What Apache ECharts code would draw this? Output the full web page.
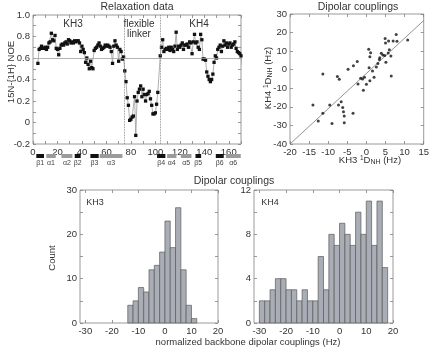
<!DOCTYPE html>
<html><head><meta charset="utf-8">
<script src="https://cdn.jsdelivr.net/npm/echarts@6/dist/echarts.min.js"></script>
<style>html,body{margin:0;padding:0;background:#fff}#c{width:432px;height:349px}</style>
</head><body><div id="c"></div>
<script>
// ---------- data ----------
const noeResidues = [4,5,6,7,8,9,10,11,12,13,14,15,16,17,18,19,20,21,22,23,24,25,26,27,28,29,30,31,32,33,34,35,36,37,38,39,40,41,42,43,44,45,46,47,48,49,50,51,52,53,54,55,56,57,58,59,60,61,62,63,64,65,66,67,68,69,70,71,72,73,74,75,76,77,78,79,80,81,82,83,84,85,86,87,88,89,90,91,92,93,94,95,96,97,98,99,100,101,102,104,105,106,107,108,109,110,111,112,113,114,115,116,117,118,119,120,121,122,123,124,125,126,127,128,129,130,131,132,133,134,135,136,137,138,139,140,141,142,143,144,145,146,147,148,149,150,151,152,153,154,155,156,157,158,159,160,161,162,163,164,165,166,167,168,169,170,171];
const noeValues = [0.55,0.68,0.69,0.71,0.69,0.69,0.70,0.68,0.70,0.74,
  0.75,0.83,0.77,0.76,0.81,0.69,0.68,0.63,0.69,0.72,
  0.73,0.72,0.74,0.75,0.73,0.77,0.76,0.74,0.75,0.74,
  0.76,0.75,0.76,0.76,0.74,0.66,0.71,0.68,0.65,0.56,
  0.60,0.54,0.50,0.57,0.51,0.50,0.67,0.69,0.70,0.72,
  0.74,0.71,0.68,0.69,0.70,0.72,0.71,0.72,0.71,0.70,
  0.66,0.55,0.71,0.76,0.72,0.70,0.57,0.68,0.66,0.59,
  0.61,0.48,0.38,0.23,0.16,0.02,0.03,0.05,0.06,0.24,
  -0.12,0.20,0.28,0.31,0.34,0.24,0.31,0.26,0.20,0.26,
  0.27,0.29,0.22,0.16,0.08,0.08,0.09,0.17,0.28,
  0.62,0.70,0.77,0.66,0.68,0.69,0.68,0.70,0.67,0.70,
  0.68,0.66,0.71,0.84,0.68,0.71,0.70,0.72,0.74,0.68,
  0.72,0.72,0.73,0.70,0.75,0.74,0.64,0.75,0.82,0.74,
  0.75,0.70,0.68,0.82,0.77,0.59,0.59,0.58,0.47,0.43,
  0.40,0.38,0.40,0.45,0.56,0.62,0.60,0.68,0.70,0.72,
  0.66,0.71,0.76,0.72,0.74,0.70,0.73,0.74,0.70,0.72,
  0.73,0.75,0.69,0.66,0.65,0.64,0.62,0.53];
const noeThreshold = 0.6;
const linkerBounds = [74.5, 104];
const noeXLabels = [0,20,40,60,80,100,120,140,160];
const noeYLabels = [-0.2,0,0.2,0.4,0.6,0.8,1.0];

const ssNames = ['β1','α1','α2','β2','β3','α3','β4','α4','α5','β5','β6','α6'];
const ssStart = [2.7,10.9,23.2,34.1,46.9,54.5,101.4,109.6,120.8,132.8,149.4,157.6];
const ssEnd   = [9.0,18.6,32.2,39.0,53.7,73.1,108.2,117.2,129.5,137.4,155.9,169.8];

const kh3Rdc = [-14.0,-12.6,-11.4,-11.4,-9.6,-9.0,-7.6,-7.1,-7.3,-6.6,-6.2,-6.0,-5.8,-5.8,-4.8,-3.4,-2.4,-3.5,-2.2,-1.5,-1.0,-0.5,-0.8,0.0,0.6,1.1,0.9,0.7,0.9,1.6,2.0,3.0,3.5,3.9,4.3,4.8,4.9,5.0,5.1,5.8,6.0,5.7,6.4,6.5,7.0,7.8,8.0,10.8,2.6,3.4];
const kh4Rdc = [-19.0,-27.6,-23.5,-2.3,-19.0,-28.9,-3.7,-5.2,-19.0,-17.2,-20.4,-22.6,-24.9,-28.5,0.2,2.2,4.4,-23.5,-7.7,-4.6,-5.0,-4.1,-11.0,-7.8,11.0,9.2,7.0,1.0,-6.0,-0.7,-4.0,3.4,6.4,8.8,7.9,7.7,16.8,14.4,4.0,15.5,10.8,9.0,7.4,-3.4,15.5,18.9,15.3,16.0,1.5,5.5];
const fitX = [-20, 15];
const fitY = [-40, 26.5];

const kh3BinLeft = [-14,-12,-10,-8,-6,-4,-2,0,2,4,6,8,10];
const kh3Counts  = [4,5,8,7,12,13,16,23,17,26,12,4,1];
const kh4BinLeft = [-30,-28,-26,-24,-22,-20,-18,-16,-14,-12,-10,-8,-6,-4,-2,0,2,4,6,8,10,12,14,16];
const kh4Counts  = [2,2,3,4,4,3,3,2,3,2,2,6,3,8,7,9,8,7,10,8,11,7,11,5];
const binWidth = 2;

// ---------- styles ----------
const FONT = '"Liberation Sans", Arial, Helvetica, sans-serif';
const TXT = '#333';
const AX = '#808080';

function ax(grid, min, max, labels, ticks, pos, showLabel, fmt) {
  return {
    type:'value', gridIndex:grid, min:min, max:max, position:pos,
    axisLine:{show:false, onZero:false}, splitLine:{show:false},
    axisTick:{show:true, inside:true, length:3, lineStyle:{color:AX, width:0.8}, customValues:ticks},
    axisLabel:{show:showLabel!==false, customValues:labels, fontSize:9.5, color:TXT, fontFamily:FONT, margin:3,
      formatter: fmt || (v=>String(v))}
  };
}
function range(a, b, s) { const r=[]; for (let v=a; v<=b+1e-9; v+=s) r.push(Math.round(v*1000)/1000); return r; }

const gridStyle = {show:true, borderColor:AX, borderWidth:0.8, backgroundColor:'transparent'};

function histSeries(xi, yi, lefts, counts) {
  return {
    type:'custom', xAxisIndex:xi, yAxisIndex:yi,
    data: lefts.map((l,i)=>[l, l+binWidth, counts[i]]),
    renderItem:(params, api)=>{
      const p0 = api.coord([api.value(0), api.value(2)]);
      const p1 = api.coord([api.value(1), 0]);
      return {type:'rect', shape:{x:p0[0], y:p0[1], width:p1[0]-p0[0], height:p1[1]-p0[1]},
        style:{fill:'#a9adb5', stroke:'#5a5a5a', lineWidth:0.7}};
    }
  };
}

const richLbl = {
  a:{fontSize:9.5, fontFamily:FONT, fill:TXT},
  s:{fontSize:6.5, fontFamily:FONT, fill:TXT, padding:[0,0,4,0]},
  b:{fontSize:7, fontFamily:FONT, fill:TXT, padding:[4,0,0,0]}
};

const chart = echarts.init(document.getElementById('c'), null, {renderer:'canvas'});
const option = {
  animation:false,
  backgroundColor:'#fff',
  textStyle:{fontFamily:FONT},
  grid:[
    Object.assign({left:33, top:15, width:208, height:129}, gridStyle),
    Object.assign({left:290, top:14, width:140, height:130}, gridStyle),
    Object.assign({left:80, top:190, width:138, height:133}, gridStyle),
    Object.assign({left:254, top:190, width:139, height:133}, gridStyle),
    {left:33, top:154, width:208, height:4, show:false}
  ],
  xAxis:[
    ax(0, 0, 170, noeXLabels, range(0,170,10), 'bottom'),
    ax(0, 0, 170, [], range(0,170,10), 'top', false),
    ax(1, -20, 15, range(-20,15,5), range(-20,15,5), 'bottom'),
    ax(1, -20, 15, [], range(-20,15,5), 'top', false),
    ax(2, -32, 20, range(-30,20,10), range(-30,20,10), 'bottom'),
    ax(2, -32, 20, [], range(-30,20,10), 'top', false),
    ax(3, -32, 20, range(-30,20,10), range(-30,20,10), 'bottom'),
    ax(3, -32, 20, [], range(-30,20,10), 'top', false),
    {type:'value', gridIndex:4, min:0, max:170, show:false}
  ],
  yAxis:[
    ax(0, -0.2, 1.0, noeYLabels, range(-0.2,1.0,0.1), 'left', true, v=> v===0?'0':v.toFixed(1)),
    ax(0, -0.2, 1.0, [], range(-0.2,1.0,0.1), 'right', false),
    ax(1, -40, 30, range(-40,30,10), range(-40,30,10), 'left'),
    ax(1, -40, 30, [], range(-40,30,10), 'right', false),
    ax(2, 0, 30, [0,10,20,30], range(0,30,5), 'left'),
    ax(2, 0, 30, [], range(0,30,5), 'right', false),
    ax(3, 0, 12, [0,4,8,12], range(0,12,2), 'left'),
    ax(3, 0, 12, [], range(0,12,2), 'right', false),
    {type:'value', gridIndex:4, min:0, max:1, show:false}
  ],
  series:[
    {
      type:'line', xAxisIndex:0, yAxisIndex:0,
      data: noeResidues.map((r,i)=>[r, noeValues[i]]),
      symbol:'rect', symbolSize:3.3, showSymbol:true,
      itemStyle:{color:'#111'}, lineStyle:{color:'#9a9a9a', width:0.8},
      markLine:{silent:true, symbol:'none', label:{show:false},
        data:[
          {yAxis:noeThreshold, lineStyle:{color:'#a0a0a0', width:0.8, type:'solid'}},
          {xAxis:linkerBounds[0], lineStyle:{color:'#777', width:0.8, type:'dotted'}},
          {xAxis:linkerBounds[1], lineStyle:{color:'#777', width:0.8, type:'dotted'}}
        ]},
      z:3
    },
    {
      type:'custom', xAxisIndex:8, yAxisIndex:8,
      data: ssNames.map((n,i)=>[ssStart[i], ssEnd[i], i]),
      renderItem:(params, api)=>{
        const i = api.value(2);
        const a = api.coord([api.value(0), 1]);
        const b = api.coord([api.value(1), 0]);
        const beta = ssNames[i].charAt(0)==='β';
        return {type:'group', children:[
          {type:'rect', shape:{x:a[0], y:a[1], width:b[0]-a[0], height:b[1]-a[1]}, style:{fill: beta?'#111':'#9b9b9b'}},
          {type:'text', style:{text:ssNames[i], x:(a[0]+b[0])/2, y:b[1]+1.5, align:'center', verticalAlign:'top',
            fontSize:7, fontFamily:FONT, fill:'#444'}}
        ]};
      }
    },
    {
      type:'line', xAxisIndex:2, yAxisIndex:2,
      data: fitX.map((x,i)=>[x, fitY[i]]), symbol:'none',
      lineStyle:{color:'#777', width:0.8}, z:2
    },
    {
      type:'scatter', xAxisIndex:2, yAxisIndex:2,
      data: kh3Rdc.map((x,i)=>[x, kh4Rdc[i]]),
      symbolSize:3, itemStyle:{color:'#111'}, z:3
    },
    histSeries(4, 4, kh3BinLeft, kh3Counts),
    histSeries(6, 6, kh4BinLeft, kh4Counts)
  ],
  graphic:[
    {type:'text', x:137, y:2, style:{text:'Relaxation data', fontSize:10.5, fontFamily:FONT, fill:TXT, align:'center', verticalAlign:'top'}},
    {type:'text', x:358, y:2, style:{text:'Dipolar couplings', fontSize:10.5, fontFamily:FONT, fill:TXT, align:'center', verticalAlign:'top'}},
    {type:'text', x:234, y:176, style:{text:'Dipolar couplings', fontSize:10.5, fontFamily:FONT, fill:TXT, align:'center', verticalAlign:'top'}},
    {type:'text', x:73, y:19, style:{text:'KH3', fontSize:10, fontFamily:FONT, fill:TXT, align:'center', verticalAlign:'top'}},
    {type:'text', x:139, y:19, style:{text:'flexible\nlinker', fontSize:10, lineHeight:10, fontFamily:FONT, fill:TXT, align:'center', verticalAlign:'top'}},
    {type:'text', x:199, y:19, style:{text:'KH4', fontSize:10, fontFamily:FONT, fill:TXT, align:'center', verticalAlign:'top'}},
    {type:'text', x:95, y:198, style:{text:'KH3', fontSize:9, fontFamily:FONT, fill:TXT, align:'center', verticalAlign:'top'}},
    {type:'text', x:270, y:198, style:{text:'KH4', fontSize:9, fontFamily:FONT, fill:TXT, align:'center', verticalAlign:'top'}},
    {type:'text', x:11, y:72, rotation:Math.PI/2, style:{text:'15N-{1H} NOE', fontSize:9.5, fontFamily:FONT, fill:TXT, align:'center', verticalAlign:'middle'}},
    {type:'text', x:52, y:258, rotation:Math.PI/2, style:{text:'Count', fontSize:9.5, fontFamily:FONT, fill:TXT, align:'center', verticalAlign:'middle'}},
    {type:'text', x:248, y:342, style:{text:'normalized backbone dipolar couplings (Hz)', fontSize:9.5, fontFamily:FONT, fill:TXT, align:'center', verticalAlign:'middle'}},
    {type:'text', x:370, y:160, style:{
      text:'{a|KH3 }{s|1}{a|D}{b|NH}{a| (Hz)}', align:'center', verticalAlign:'middle', fill:TXT, rich:richLbl}},
    {type:'text', x:268, y:78, rotation:Math.PI/2, style:{
      text:'{a|KH4 }{s|1}{a|D}{b|NH}{a| (Hz)}', align:'center', verticalAlign:'middle', fill:TXT, rich:richLbl}}
  ]
};
chart.setOption(option);
</script>
</body></html>
